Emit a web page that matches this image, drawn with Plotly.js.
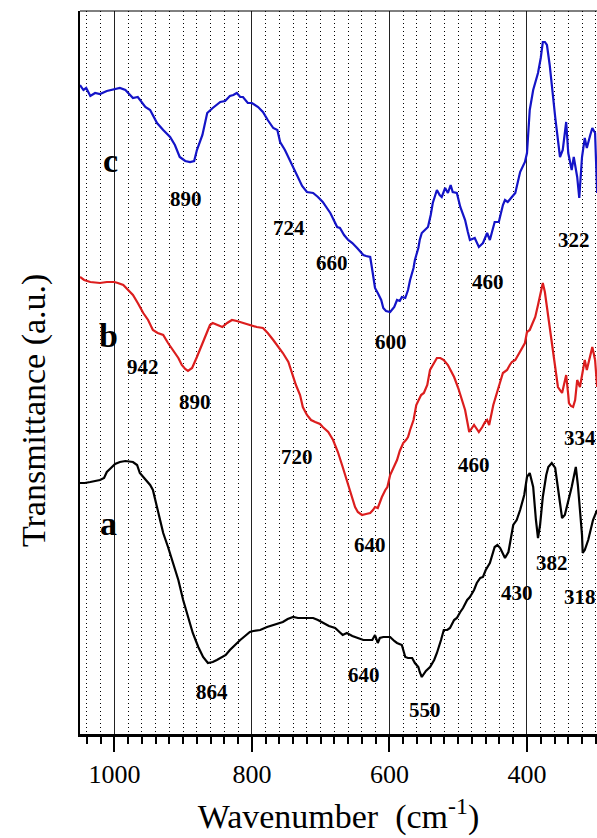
<!DOCTYPE html>
<html>
<head>
<meta charset="utf-8">
<script src="https://cdn.plot.ly/plotly-3.0.1.min.js"></script>
<style>
  html, body { margin: 0; padding: 0; background: #fff; overflow: hidden; }
  #chart { width: 597px; height: 838px; }
</style>
</head>
<body>
<div id="chart"></div>
<script>
// FTIR spectra, wavenumber in cm^-1, transmittance in arbitrary units (curves offset vertically)

// sample c (blue)
const waveC = [1050,1045,1041,1035,1028,1021,1011,1000,992,984,973,966,955,948,938,929,919,912,905,897,890,884,880,872,865,857,846,839,832,827,822,817,813,806,800,791,784,777,769,763,759,752,745,737,734,727,720,711,704,697,686,679,676,672,666,660,654,647,638,634,628,625,621,617,612,609,605,599,593,589,585,582,577,573,570,565,563,558,556,553,548,544,540,537,531,527,524,519,515,511,508,502,497,490,486,483,476,470,464,458,454,447,441,435,432,428,422,417,410,403,400,396,391,384,380,377,374,371,367,364,359,355,352,348,343,340,335,332,327,324,320,316,313,308,305,301,298];
const transC = [649,644,646,638,641,640,643,645,646,644,636,637,627,624,611,604,597,589,577,573,572,573,584,599,621,626,632,633,638,639,641,637,637,631,631,627,622,614,606,604,592,584,574,562,558,548,542,541,537,532,521,512,507,506,499,494,491,486,479,478,477,464,446,441,434,426,423,422,427,434,433,437,436,444,454,466,474,486,494,501,504,507,519,531,544,539,537,546,541,549,542,541,527,514,502,494,496,487,491,501,494,512,512,529,534,532,537,541,562,572,581,624,644,661,676,692,692,689,669,647,617,594,577,584,612,581,564,577,557,536,577,596,586,599,606,601,541];

// sample b (red)
const waveB = [1050,1044,1035,1021,1011,1000,995,987,980,973,966,958,951,944,937,929,922,915,907,902,897,893,887,880,872,865,861,857,849,843,836,829,822,813,803,793,784,777,769,762,755,747,742,736,730,726,720,714,708,701,697,689,682,675,668,662,657,653,650,646,640,634,628,624,621,617,614,611,606,603,599,593,589,585,580,576,573,570,565,561,558,554,550,545,541,535,531,526,521,515,506,500,494,490,484,480,477,472,470,465,461,458,455,449,443,439,435,429,425,422,417,413,409,406,403,400,396,393,388,384,380,377,374,369,365,362,358,355,349,346,343,340,339,336,333,330,327,323,320,316,313,308,305,301,298];
const transB = [457,454,452,451,452,452,451,449,444,439,431,421,414,404,401,399,391,384,376,369,365,363,366,377,391,404,409,411,409,407,411,414,413,411,409,407,406,401,394,388,381,372,361,349,339,327,319,314,312,310,307,302,294,282,267,254,244,234,227,222,219,220,221,224,227,226,232,237,244,247,259,268,274,283,291,294,297,304,314,329,334,339,341,349,364,372,376,376,374,369,357,346,334,324,302,306,309,304,302,307,312,314,309,329,344,352,361,364,369,372,374,379,384,387,391,402,404,409,417,429,440,451,442,417,399,384,364,347,341,349,359,339,331,328,327,334,354,347,359,374,364,379,387,374,347];

// sample a (black)
const waveA = [1050,1043,1035,1028,1021,1015,1011,1005,999,992,984,973,967,963,955,948,944,938,934,929,922,915,907,900,893,886,878,871,864,857,851,843,838,832,825,817,810,803,798,788,778,766,755,748,740,733,723,711,704,697,688,679,672,668,662,654,646,638,631,625,621,617,614,609,604,599,593,589,582,577,573,567,563,558,556,553,547,541,535,531,525,521,516,512,506,502,497,493,487,483,477,473,468,464,460,454,447,443,439,432,427,420,415,410,404,400,396,391,387,384,381,377,372,369,364,359,356,352,349,345,342,337,335,329,326,323,320,319,316,311,308,304,298];
const transA = [251,251,252,253,254,256,262,266,270,272,273,272,269,261,254,249,244,227,214,201,187,172,154,134,117,101,87,77,71,72,74,77,79,84,89,94,98,102,103,104,107,110,112,115,117,116,116,116,114,111,108,106,101,99,101,98,96,94,94,94,99,91,96,97,97,97,93,91,89,77,76,76,71,67,62,57,63,67,74,81,94,104,104,106,114,116,122,126,134,137,144,151,156,157,164,171,187,189,186,176,182,209,214,224,239,257,261,247,214,196,209,237,259,267,271,266,251,229,216,219,227,239,247,267,249,224,199,181,184,194,204,214,224];

// x-axis ticks
const tickValues = [1000, 800, 600, 400];
const tickText = ['1000', '800', '600', '400'];

const serif = 'Liberation Serif, Times New Roman, serif';

function curve(x, y, color, name) {
  return {
    type: 'scatter', mode: 'lines', name: name,
    x: x, y: y,
    line: { color: color, width: 2.2 },
    hoverinfo: 'skip'
  };
}

const traces = [
  curve(waveA, transA, '#000000', 'a'),
  curve(waveB, transB, '#dc1e1e', 'b'),
  curve(waveC, transC, '#1414c8', 'c')
];

// band assignments and sample letters
const bandNotes = [
  ['c', 1006, 574, 34], ['890', 896, 535], ['724', 746, 506], ['660', 684, 471],
  ['600', 598, 392], ['460', 457, 452], ['322', 332, 494],
  ['b', 1009, 399, 34], ['942', 958, 367], ['890', 883, 332], ['720', 734, 277],
  ['640', 628, 189], ['460', 477, 269], ['334', 323, 296],
  ['a', 1009, 211, 34], ['864', 858, 42], ['640', 637, 59], ['550', 548, 24],
  ['430', 415, 141], ['382', 364, 171], ['318', 323, 137]
];

const annotations = bandNotes.map(n => ({
  x: n[1], y: n[2], xref: 'x', yref: 'y',
  text: '<b>' + n[0] + '</b>',
  showarrow: false, xanchor: 'center', yanchor: 'middle',
  font: { family: serif, size: n[3] || 21, color: '#000' }
}));

annotations.push({
  xref: 'paper', yref: 'paper', x: -0.089, y: 0.448,
  text: 'Transmittance (a.u.)', textangle: -90, showarrow: false,
  xanchor: 'center', yanchor: 'middle',
  font: { family: serif, size: 34, color: '#000' }
});

const layout = {
  width: 597, height: 838,
  margin: { l: 80, r: 0, t: 11, b: 104, pad: 0 },
  paper_bgcolor: '#fff', plot_bgcolor: '#fff',
  showlegend: false,
  font: { family: serif, color: '#000' },
  xaxis: {
    range: [1050, 298.2],
    tickmode: 'array', tickvals: tickValues, ticktext: tickText,
    ticks: 'outside', ticklen: 15, tickwidth: 2, tickcolor: '#000',
    tickfont: { family: serif, size: 26, color: '#000' },
    showline: true, linecolor: '#000', linewidth: 2.5,
    showgrid: true, gridcolor: '#222', gridwidth: 1,
    zeroline: false,
    minor: {
      tick0: 0, dtick: 20,
      ticks: 'outside', ticklen: 7, tickwidth: 2, tickcolor: '#000',
      showgrid: true, gridcolor: '#000', gridwidth: 1, griddash: '1px,3px'
    },
    title: {
      text: 'Wavenumber\u00a0 (cm<sup>-1</sup>)',
      font: { family: serif, size: 34, color: '#000' },
      standoff: 17
    }
  },
  yaxis: {
    range: [0, 723],
    showticklabels: false, ticks: '', showgrid: false, zeroline: false,
    showline: true, linecolor: '#000', linewidth: 2.5
  },
  shapes: [{
    type: 'line', xref: 'paper', yref: 'paper',
    x0: 0, x1: 1, y0: 1, y1: 1,
    line: { color: '#000', width: 1 }
  }],
  annotations: annotations
};

Plotly.newPlot('chart', traces, layout, { displayModeBar: false, staticPlot: true });
</script>
</body>
</html>
